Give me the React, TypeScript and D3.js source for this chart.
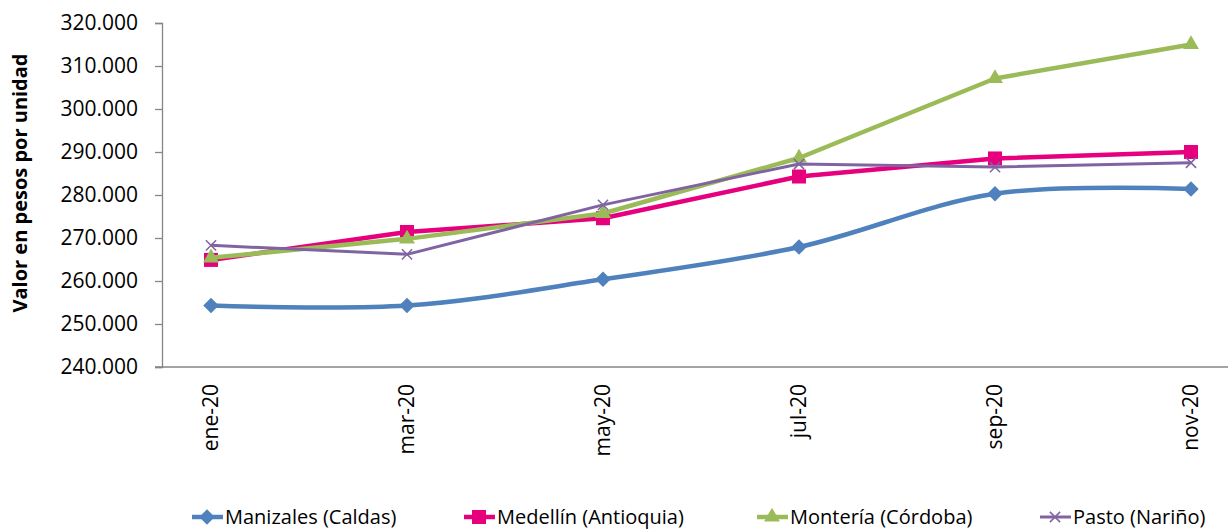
import React from "react";
import * as d3 from "d3";

const months = ["ene-20", "mar-20", "may-20", "jul-20", "sep-20", "nov-20"];
const manizales = [254300, 254300, 260400, 267900, 280300, 281400];
const medellin = [264900, 271400, 274600, 284300, 288500, 290000];
const monteria = [265400, 269800, 275700, 288600, 307100, 315000];
const pasto = [268300, 266200, 277700, 287200, 286500, 287500];
const yTicks = [240000, 250000, 260000, 270000, 280000, 290000, 300000, 310000, 320000];

const seriesNames = ["Manizales (Caldas)", "Medellín (Antioquia)", "Montería (Córdoba)", "Pasto (Nariño)"];

export default function App() {
  const svgRef = React.useRef<SVGSVGElement>(null);

  React.useEffect(() => {
    const width = 1228;
    const height = 531;
    const font = "'Open Sans', 'Noto Sans', sans-serif";
    const svg = d3.select(svgRef.current).attr("width", width).attr("height", height);
    svg.selectAll("*").remove();

    // thousands separated with a dot
    const es = d3.formatLocale({ decimal: ",", thousands: ".", grouping: [3], currency: ["$", ""] });
    const fmt = es.format(",.0f");

    // scales
    const x = d3.scalePoint<string>().domain(months).range([211, 1191]);
    const y = d3.scaleLinear().domain([240000, 320000]).range([367, 23]);

    // y axis
    const yAxis = d3
      .axisLeft(y)
      .tickValues(yTicks)
      .tickSize(7)
      .tickPadding(17)
      .tickFormat((d) => fmt(d as number));
    const gy = svg.append("g").attr("transform", "translate(162,0)").call(yAxis);
    gy.selectAll("path, line").attr("stroke", "#868686").attr("stroke-width", 1.3);
    gy.selectAll("text").attr("font-family", font).attr("font-size", 21).attr("fill", "#000");

    // x axis line
    svg
      .append("line")
      .attr("x1", 155)
      .attr("x2", width)
      .attr("y1", 367)
      .attr("y2", 367)
      .attr("stroke", "#868686")
      .attr("stroke-width", 1.3);

    // x labels
    svg
      .selectAll(".xl")
      .data(months)
      .enter()
      .append("text")
      .attr("transform", (d) => `translate(${x(d)},384) rotate(-90)`)
      .attr("text-anchor", "end")
      .attr("dy", "0.35em")
      .attr("font-family", font)
      .attr("font-size", 21)
      .text((d) => d);

    // y title
    svg
      .append("text")
      .attr("transform", "translate(27,183) rotate(-90)")
      .attr("text-anchor", "middle")
      .attr("font-family", font)
      .attr("font-weight", "bold")
      .attr("font-size", 20)
      .text("Valor en pesos por unidad");

    const series = [
      { name: seriesNames[0], values: manizales, color: "#4F81BD", width: 4.5, marker: "diamond", smooth: true },
      { name: seriesNames[1], values: medellin, color: "#E6007E", width: 4.5, marker: "square", smooth: false },
      { name: seriesNames[2], values: monteria, color: "#9BBB59", width: 4.5, marker: "triangle", smooth: false },
      { name: seriesNames[3], values: pasto, color: "#8064A2", width: 3, marker: "x", smooth: false },
    ];

    const drawMarker = (g: any, kind: string, cx: number, cy: number, color: string) => {
      if (kind === "diamond") {
        g.append("rect")
          .attr("x", -5.5)
          .attr("y", -5.5)
          .attr("width", 11)
          .attr("height", 11)
          .attr("transform", `translate(${cx},${cy}) rotate(45)`)
          .attr("fill", color);
      } else if (kind === "square") {
        g.append("rect")
          .attr("x", cx - 7)
          .attr("y", cy - 7)
          .attr("width", 14)
          .attr("height", 14)
          .attr("fill", color);
      } else if (kind === "triangle") {
        g.append("path")
          .attr("d", d3.symbol(d3.symbolTriangle, 110)())
          .attr("transform", `translate(${cx},${cy})`)
          .attr("fill", color);
      } else {
        g.append("path")
          .attr("d", d3.symbol(d3.symbolX, 70)())
          .attr("transform", `translate(${cx},${cy})`)
          .attr("fill", "none")
          .attr("stroke", color)
          .attr("stroke-width", 1.5);
      }
    };

    series.forEach((s) => {
      const line = d3
        .line<number>()
        .x((_, i) => x(months[i]) as number)
        .y((d) => y(d))
        .curve(s.smooth ? d3.curveCatmullRom.alpha(0.5) : d3.curveLinear);
      const g = svg.append("g");
      g.append("path")
        .attr("d", line(s.values))
        .attr("fill", "none")
        .attr("stroke", s.color)
        .attr("stroke-width", s.width)
        .attr("stroke-linejoin", "round");
      s.values.forEach((v, i) => drawMarker(g, s.marker, x(months[i]) as number, y(v), s.color));
    });

    // legend
    const legendX = [192, 464, 757, 1040];
    const ly = 517;
    series.forEach((s, i) => {
      const g = svg.append("g");
      g.append("line")
        .attr("x1", legendX[i])
        .attr("x2", legendX[i] + 31)
        .attr("y1", ly)
        .attr("y2", ly)
        .attr("stroke", s.color)
        .attr("stroke-width", s.width);
      drawMarker(g, s.marker, legendX[i] + 15, ly, s.color);
      g.append("text")
        .attr("x", legendX[i] + 33)
        .attr("y", ly)
        .attr("dy", "0.36em")
        .attr("font-family", font)
        .attr("font-size", 20)
        .text(s.name);
    });
  }, []);

  return (
    <svg ref={svgRef} style={{ position: "absolute", left: 0, top: 0, display: "block" }} />
  );
}
